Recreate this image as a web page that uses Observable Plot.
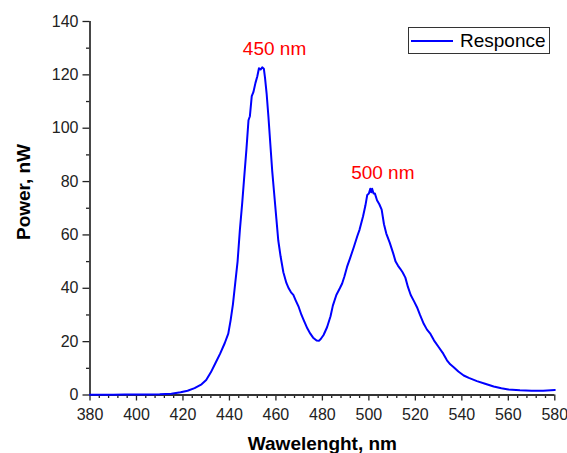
<!DOCTYPE html>
<html><head><meta charset="utf-8">
<script src="https://cdn.jsdelivr.net/npm/d3@7"></script>
<script src="https://cdn.jsdelivr.net/npm/@observablehq/plot@0.6"></script>
<style>
body{margin:0;background:#fff;}
#wrap{position:relative;width:567px;height:453px;font-family:"Liberation Sans",Arial,sans-serif;}
#legend{position:absolute;left:408px;top:27px;width:140px;height:25px;border:1px solid #333;background:#fff;display:flex;align-items:center;font-size:19px;color:#000;}
#legend svg{margin-left:2px;margin-right:7px;}
#ytitle{position:absolute;left:22.5px;top:192px;transform:translate(-50%,-50%) rotate(-90deg);font-weight:bold;font-size:19px;line-height:19px;white-space:nowrap;color:#000;}
</style></head><body><div id="wrap"></div>
<script>
const wavelength = [380,385,390,395,400,405,410,415,419,422,425,428,430,432,434,436,438,439.5,440.5,441.5,442.5,443.5,444.5,445.5,446.3,447.3,448.2,448.8,449.6,450.3,451.2,452,452.7,453.4,454.1,454.8,455.3,456,456.8,457.6,458.4,459.2,460.2,461,462,463.2,464.5,465.5,466.5,467.5,468.5,469.8,471,472,473.5,474.8,476,477.5,478.5,479.3,480.5,482,483.5,484.5,486,487.5,488.5,489.5,490.6,492,493.5,495,496,497.5,498.5,499.3,500,500.6,501,501.4,502,502.6,503.5,504.5,505.5,506.5,507.5,509,510.5,511.5,512.5,513.5,514.5,515.7,516.8,518,519.5,520.7,522,523.6,525,526.5,528,530,532,533.6,535,536.5,538.5,540.8,543,546.5,550,553.7,557,560,565,570,575,580];
const power = [0.1,0.1,0.1,0.15,0.15,0.2,0.3,0.5,1.0,1.6,2.6,4.0,5.6,8.5,12,15.5,19.5,23,28,34,42,50,62,72,81,92,103,104.5,112,113.5,117,119.5,122.5,122,122.8,122.3,119,113,104,94,84,76,66,58,52,46,42,40,38.5,37.5,35.5,33,30,28,25,23,21.5,20.4,20.3,21,22.5,25.4,29.5,33.5,37.5,40,41.8,44.5,48,51.5,55.4,59.5,62,67,71,75,75.5,77.3,76,77.3,75.5,75.5,73,71.5,69.5,64,60.5,57,53,50,48.5,47.3,46,44,40.5,37.5,35,32.9,30,26.7,24.5,22.9,20.5,18,15.5,13,11.5,10.4,8.8,7.3,6.4,5.2,4.2,3.2,2.5,2.1,1.8,1.6,1.6,1.9];
const xTicks = [380,400,420,440,460,480,500,520,540,560,580];
const xMinorTicks = d3.range(384,580,4).filter(v => (v - 380) % 20 !== 0);
const yTicks = [0,20,40,60,80,100,120,140];
const yMinorTicks = [10,30,50,70,90,110,130];
const annotationText = ["450 nm","500 nm"];
const annotationX = [459.4,506];
const annotationY = [127.3,81];
const seriesName = "Responce";
const xTitle = "Wawelenght, nm";
const yTitle = "Power, nW";

const data = wavelength.map((w,i)=>({w, p: power[i]}));
const notes = annotationText.map((t,i)=>({t, x: annotationX[i], y: annotationY[i]}));
const font = '"Liberation Sans", Arial, sans-serif';

const chart = Plot.plot({
  width: 567, height: 453,
  marginLeft: 89.5, marginRight: 12.7, marginTop: 21, marginBottom: 58.5,
  style: {fontFamily: font, background: "#fff", overflow: "visible"},
  x: {domain: [380,580]},
  y: {domain: [0,140]},
  marks: [
    Plot.axisY({ticks: yTicks, tickSize: 7, tickPadding: 4.5, fontSize: 16, label: null, color: "#222", strokeWidth: 1.3}),
    Plot.axisY({ticks: yMinorTicks, tickSize: 3.5, tickFormat: () => "", label: null, color: "#222", strokeWidth: 1.3}),
    Plot.axisX({ticks: xTicks, tickSize: 6, tickPadding: 7.5, fontSize: 16, label: null, color: "#222", strokeWidth: 1.3}),
    Plot.axisX({ticks: xMinorTicks, tickSize: 3.5, tickFormat: () => "", label: null, color: "#222", strokeWidth: 1.3}),
    Plot.ruleX([380], {y1: 0, y2: 140, stroke: "#333", strokeWidth: 1.8}),
    Plot.ruleY([0], {x1: 380, x2: 580, stroke: "#333", strokeWidth: 1.8}),
    Plot.line(data, {x: "w", y: "p", stroke: "#0000ff", strokeWidth: 2}),
    Plot.text(notes, {x: "x", y: "y", text: "t", fill: "#ff0000", fontSize: 19, lineAnchor: "bottom"}),
    Plot.text([xTitle], {frameAnchor: "bottom", dy: 55, lineAnchor: "bottom", fontSize: 19, fontWeight: "bold", fill: "#000"})
  ]
});
const wrap = document.getElementById("wrap");
wrap.appendChild(chart);
const yt = document.createElement("div");
yt.id = "ytitle";
yt.textContent = yTitle;
wrap.appendChild(yt);
const legend = document.createElement("div");
legend.id = "legend";
legend.innerHTML = '<svg width="42" height="6"><line x1="0" x2="42" y1="3" y2="3" stroke="#0000ff" stroke-width="2"/></svg><span>' + seriesName + '</span>';
wrap.appendChild(legend);
</script></body></html>
